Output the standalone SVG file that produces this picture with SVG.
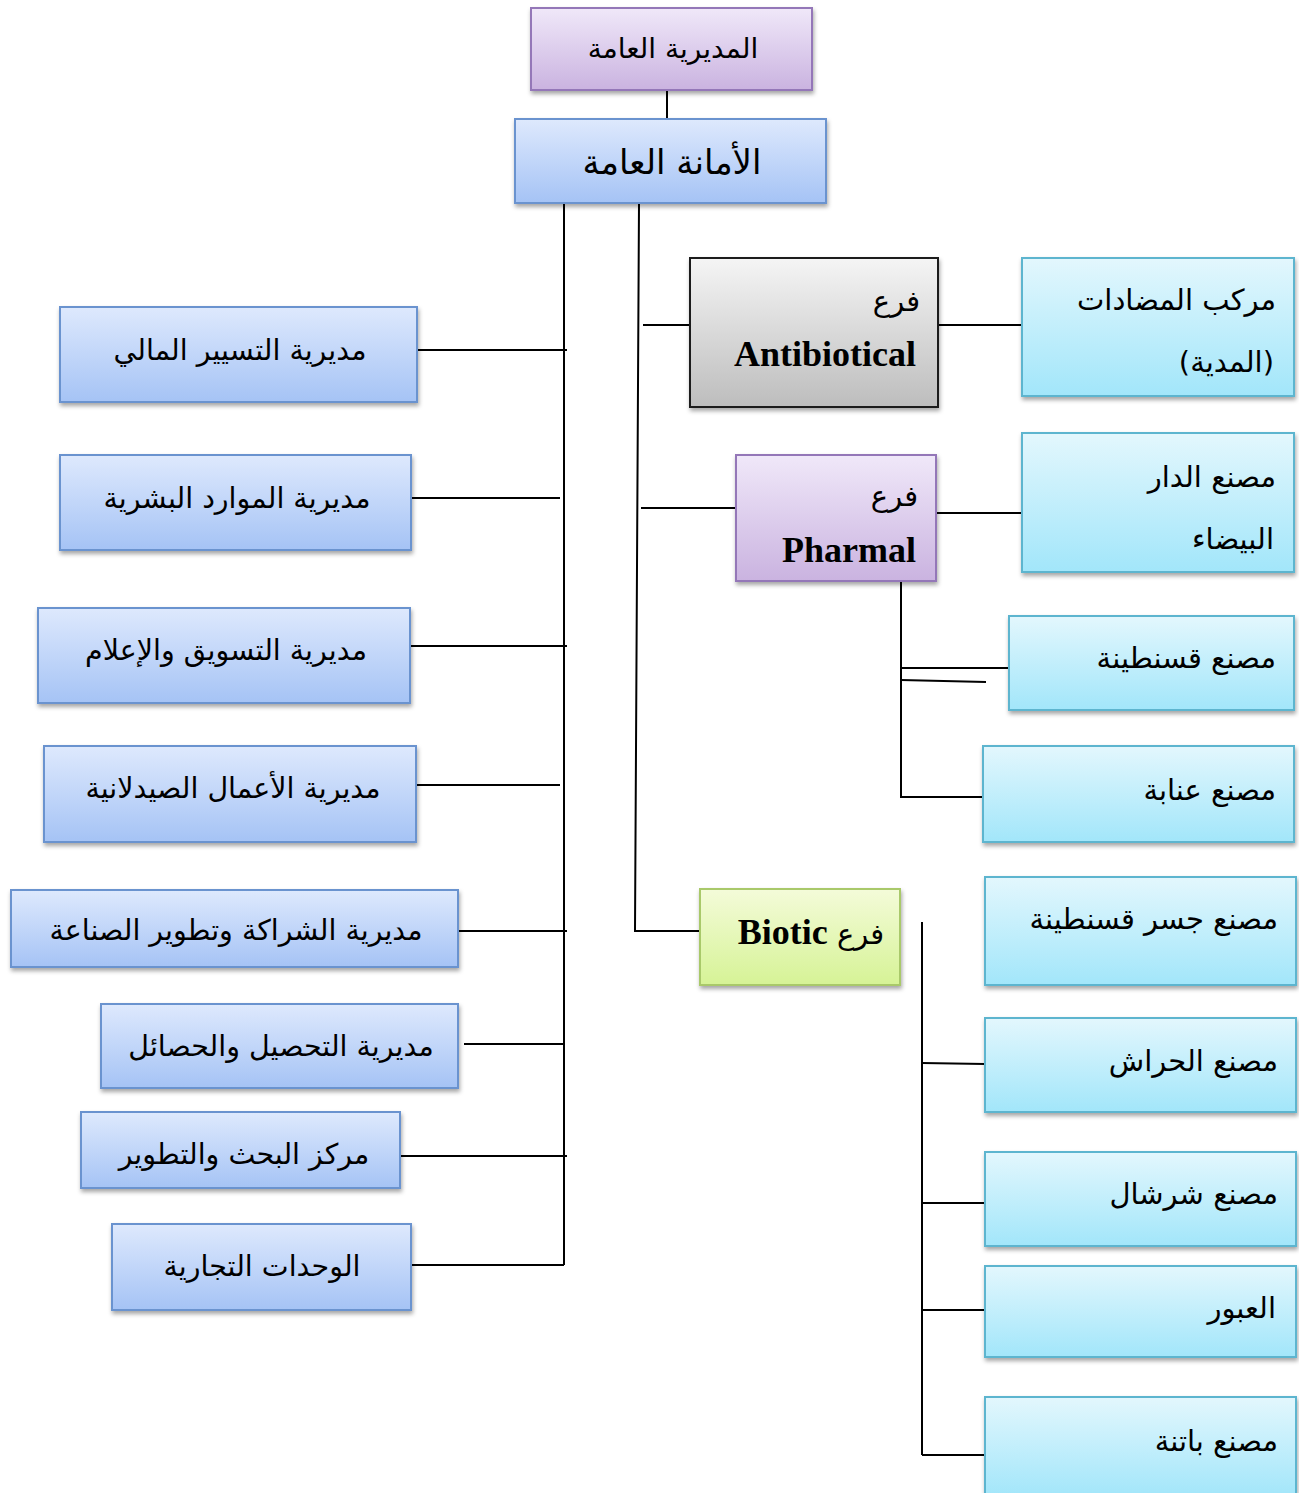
<svg xmlns="http://www.w3.org/2000/svg" width="1299" height="1493" viewBox="0 0 1299 1493">
<defs>
<linearGradient id="gBlue" x1="0" y1="0" x2="0" y2="1"><stop offset="0" stop-color="#dee9fd"/><stop offset="1" stop-color="#a5c3f5"/></linearGradient>
<linearGradient id="gCyan" x1="0" y1="0" x2="0" y2="1"><stop offset="0" stop-color="#e3f7fd"/><stop offset="1" stop-color="#a2e6fa"/></linearGradient>
<linearGradient id="gPurple" x1="0" y1="0" x2="0" y2="1"><stop offset="0" stop-color="#f0e8f9"/><stop offset="1" stop-color="#cab3e0"/></linearGradient>
<linearGradient id="gGray" x1="0" y1="0" x2="0" y2="1"><stop offset="0" stop-color="#f5f5f5"/><stop offset="1" stop-color="#bdbdbd"/></linearGradient>
<linearGradient id="gGreen" x1="0" y1="0" x2="0" y2="1"><stop offset="0" stop-color="#f4fbd9"/><stop offset="1" stop-color="#d6f396"/></linearGradient>
<filter id="sh" x="-10%" y="-10%" width="125%" height="130%"><feDropShadow dx="1" dy="3" stdDeviation="2" flood-color="#000" flood-opacity="0.35"/></filter>
</defs>
<style>
.box{stroke-width:2;filter:url(#sh)}
.blue{fill:url(#gBlue);stroke:#6a93cf}
.cyan{fill:url(#gCyan);stroke:#5db5cf}
.purple{fill:url(#gPurple);stroke:#9477b8}
.gray{fill:url(#gGray);stroke:#1a1a1a}
.green{fill:url(#gGreen);stroke:#a9c96a}
text{font-family:"DejaVu Sans","Liberation Serif",serif;fill:#000}
.ar{font-size:28.5px}
.arr{font-size:29px}
.c{text-anchor:middle}
.r{text-anchor:end}
.en{font-family:"Liberation Serif",serif;font-weight:bold;font-size:36px}
.conn line,.conn polyline{stroke:#000;stroke-width:2;fill:none}
</style>

<g id="connectors" class="conn">
<line x1="667" y1="90" x2="667" y2="119"/>
<line x1="564" y1="203" x2="564" y2="1265"/>
<polyline points="639,203 635,931 700,931"/>
<line x1="417" y1="350" x2="567" y2="350"/>
<line x1="411" y1="498" x2="560" y2="498"/>
<line x1="410" y1="646" x2="567" y2="646"/>
<line x1="416" y1="785" x2="560" y2="785"/>
<line x1="458" y1="931" x2="567" y2="931"/>
<line x1="464" y1="1044" x2="564" y2="1044"/>
<line x1="400" y1="1156" x2="567" y2="1156"/>
<line x1="411" y1="1265" x2="564" y2="1265"/>
<line x1="643" y1="325" x2="690" y2="325"/>
<line x1="938" y1="325" x2="1022" y2="325"/>
<line x1="641" y1="508" x2="736" y2="508"/>
<line x1="936" y1="513" x2="1022" y2="513"/>
<polyline points="901,581 901,797 983,797"/>
<line x1="901" y1="668" x2="1009" y2="668"/>
<line x1="901" y1="680" x2="986" y2="682"/>
<line x1="922" y1="922" x2="922" y2="1455"/>
<line x1="922" y1="1063" x2="985" y2="1064"/>
<line x1="922" y1="1203" x2="985" y2="1203"/>
<line x1="922" y1="1310" x2="985" y2="1310"/>
<line x1="922" y1="1455" x2="985" y2="1455"/>
</g>

<g id="n-direction-generale"><rect class="box purple" x="531" y="8" width="281" height="82"/><text class="c" x="673" y="58" style="font-size:28px">المديرية العامة</text></g>
<g id="n-secretariat-general"><rect class="box blue" x="515" y="119" width="311" height="84"/><text class="c" x="672" y="174" style="font-size:34px">الأمانة العامة</text></g>

<g id="n-finance"><rect class="box blue" x="60" y="307" width="357" height="95"/><text class="ar c" x="240" y="360">مديرية التسيير المالي</text></g>
<g id="n-rh"><rect class="box blue" x="60" y="455" width="351" height="95"/><text class="ar c" x="237" y="508">مديرية الموارد البشرية</text></g>
<g id="n-marketing"><rect class="box blue" x="38" y="608" width="372" height="95"/><text class="ar c" x="226" y="660">مديرية التسويق والإعلام</text></g>
<g id="n-pharma"><rect class="box blue" x="44" y="746" width="372" height="96"/><text class="ar c" x="233" y="798">مديرية الأعمال الصيدلانية</text></g>
<g id="n-partenariat"><rect class="box blue" x="11" y="890" width="447" height="77"/><text class="ar c" x="236" y="940">مديرية الشراكة وتطوير الصناعة</text></g>
<g id="n-recouvrement"><rect class="box blue" x="101" y="1004" width="357" height="84"/><text class="ar c" x="281" y="1056">مديرية التحصيل والحصائل</text></g>
<g id="n-rd"><rect class="box blue" x="81" y="1112" width="319" height="76"/><text class="ar c" x="244" y="1164">مركز البحث والتطوير</text></g>
<g id="n-commercial"><rect class="box blue" x="112" y="1224" width="299" height="86"/><text class="ar c" x="262" y="1276">الوحدات التجارية</text></g>

<g id="n-antibiotical"><rect class="box gray" x="690" y="258" width="248" height="149"/><text class="arr r" x="920" y="311">فرع</text><text class="en r" x="916" y="366">Antibiotical</text></g>
<g id="n-medea"><rect class="box cyan" x="1022" y="258" width="272" height="138"/><text class="arr r" x="1276" y="310">مركب المضادات</text><text class="arr r" x="1274" y="372">(المدية)</text></g>

<g id="n-pharmal"><rect class="box purple" x="736" y="455" width="200" height="126"/><text class="arr r" x="918" y="506">فرع</text><text class="en r" x="916" y="562">Pharmal</text></g>
<g id="n-daralbeida"><rect class="box cyan" x="1022" y="433" width="272" height="139"/><text class="arr r" x="1276" y="487">مصنع الدار</text><text class="arr r" x="1274" y="549">البيضاء</text></g>
<g id="n-constantine"><rect class="box cyan" x="1009" y="616" width="285" height="94"/><text class="arr r" x="1276" y="668">مصنع قسنطينة</text></g>
<g id="n-annaba"><rect class="box cyan" x="983" y="746" width="311" height="96"/><text class="arr r" x="1276" y="800">مصنع عنابة</text></g>

<g id="n-biotic"><rect class="box green" x="700" y="889" width="200" height="96"/><text x="811" y="944" direction="rtl" class="c"><tspan class="arr">فرع </tspan><tspan class="en">Biotic</tspan></text></g>
<g id="n-pont-constantine"><rect class="box cyan" x="985" y="877" width="311" height="108"/><text class="arr r" x="1278" y="929">مصنع جسر قسنطينة</text></g>
<g id="n-elharrach"><rect class="box cyan" x="985" y="1018" width="311" height="94"/><text class="arr r" x="1278" y="1071">مصنع الحراش</text></g>
<g id="n-cherchell"><rect class="box cyan" x="985" y="1152" width="311" height="94"/><text class="arr r" x="1278" y="1204">مصنع شرشال</text></g>
<g id="n-elobour"><rect class="box cyan" x="985" y="1266" width="311" height="91"/><text class="arr r" x="1276" y="1318">العبور</text></g>
<g id="n-batna"><rect class="box cyan" x="985" y="1397" width="311" height="100"/><text class="arr r" x="1278" y="1451">مصنع باتنة</text></g>
</svg>
